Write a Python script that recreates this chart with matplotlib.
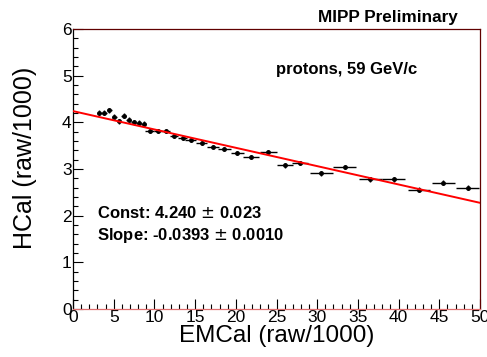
import numpy as np
import matplotlib
matplotlib.use('Agg')
from matplotlib import pyplot as plt
from matplotlib.ticker import MultipleLocator

plt.rcParams['font.family'] = ['Liberation Sans', 'DejaVu Sans']

# profile points
emcal = [3.2, 3.85, 4.45, 5.05, 5.65, 6.25, 6.85, 7.45, 8.05, 8.7, 9.4, 10.4, 11.4,
         12.45, 13.45, 14.45, 15.8, 17.2, 18.55, 20.2, 21.9, 24.0, 26.0, 27.9,
         30.5, 33.4, 36.5, 39.4, 42.5, 45.5, 48.5]
hcal = [4.21, 4.21, 4.26, 4.12, 4.02, 4.14, 4.06, 4.00, 3.99, 3.97, 3.82, 3.82, 3.81,
        3.71, 3.66, 3.62, 3.55, 3.48, 3.43, 3.34, 3.25, 3.36, 3.08, 3.13,
        2.91, 3.04, 2.78, 2.78, 2.56, 2.71, 2.60]
xerr = [0.3] * 10 + [0.5] * 5 + [0.65, 0.7, 0.75, 0.8, 0.85, 1.0, 1.0, 1.0, 1.0,
        1.4, 1.4, 1.4, 1.4, 1.4, 1.4, 1.4]
yerr = [0.05] * 10 + [0.04] * 12 + [0.05] * 9
const, slope = 4.240, -0.0393

fig = plt.figure(figsize=(4.87, 3.57), dpi=100)
ax = fig.add_axes([0.150, 0.1345, 0.8356, 0.7843])

ax.errorbar(emcal, hcal, xerr=xerr, yerr=yerr, fmt='o', ms=2.5, color='black',
            elinewidth=1.0, capsize=0, zorder=3)
xs = np.array([0, 50])
ax.plot(xs, const + slope * xs, color='red', lw=1.4, zorder=4)

ax.set_xlim(0, 50)
ax.set_ylim(0, 6)
ax.xaxis.set_major_locator(MultipleLocator(5))
ax.xaxis.set_minor_locator(MultipleLocator(1))
ax.yaxis.set_major_locator(MultipleLocator(1))
ax.yaxis.set_minor_locator(MultipleLocator(0.2))
ax.tick_params(which='both', direction='in', top=False, right=False, labelsize=12.5,
               pad=1)
ax.tick_params(which='major', length=7, width=0.8)
ax.tick_params(which='minor', length=3.5, width=0.8)
for s in ax.spines.values():
    s.set_linewidth(0.9)
ax.spines['right'].set_color('#600000')
ax.spines['top'].set_color('#600000')
ax.spines['bottom'].set_color('#e07070')

ax.set_xlabel('EMCal (raw/1000)', fontsize=17.5, labelpad=0)
ax.set_ylabel('HCal (raw/1000)', fontsize=18)
ax.yaxis.set_label_coords(-0.088, 0.54)

fig.text(0.797, 0.95, 'MIPP Preliminary', ha='center', va='center', fontsize=12.3,
         fontweight='bold')
ax.text(0.499, 0.854, 'protons, 59 GeV/c', transform=ax.transAxes, fontsize=12,
        fontweight='bold', va='center')
ax.text(0.059, 0.343, 'Const: 4.240 $\\pm$ 0.023', transform=ax.transAxes,
        fontsize=12, fontweight='bold', va='center')
ax.text(0.059, 0.264, 'Slope: -0.0393 $\\pm$ 0.0010', transform=ax.transAxes,
        fontsize=12, fontweight='bold', va='center')

fig.savefig('out.png', dpi=100)
